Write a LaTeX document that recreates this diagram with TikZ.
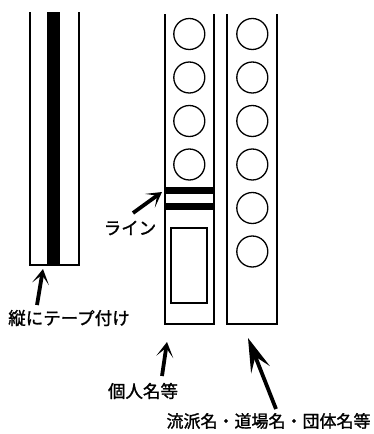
\documentclass[tikz,border=0pt]{standalone}
\usepackage{fontspec}
\newfontfamily\jpfont[FakeBold=1.3]{Noto Sans CJK JP}
\usetikzlibrary{arrows.meta}

\tikzset{
    strip/.style={line width=1.8pt},
    hole/.style={circle, draw, line width=1.3pt, minimum size=31pt, inner sep=0pt},
    label/.style={font=\jpfont\fontsize{17.5}{20}\selectfont, inner sep=0pt},
    pointer/.style={line width=3.8pt, -{Stealth[length=15pt, width=17pt, inset=9pt]}},
    longpointer/.style={line width=3.8pt, -{Stealth[length=34pt, width=20pt, inset=14pt]}},
}

\begin{document}
\begin{tikzpicture}[x=1pt, y=-1pt]
    \useasboundingbox (0,0) rectangle (373,434);

    % strip with tape
    \fill (47,12) rectangle (60,265);
    \draw [strip] (30,12) -- (30,265) -- (79,265) -- (79,12);

    % strip with name
    \draw [strip] (164.7,14) -- (164.7,324) -- (214,324) -- (214,14);
    \foreach \y in {34, 77.5, 121, 164.5}
        \node [hole] at (189.3,\y) {};
    \fill (164.7,187.3) rectangle (214,194.3);
    \fill (164.7,202.7) rectangle (214,210);
    \draw [line width=2pt] (171.3,228) rectangle (207.3,303.3);

    % strip with group
    \draw [strip] (227.3,14) -- (227.3,324) -- (277.3,324) -- (277.3,14);
    \foreach \y in {34, 77.5, 121, 164.5, 208, 251.5}
        \node [hole] at (252.3,\y) {};

    % labels
    \node [label] (line) at (130,228) {ライン};
    \node [label] (tape) at (69,318) {縦にテープ付け};
    \node [label] (person) at (143,391) {個人名等};
    \node [label, font=\jpfont\fontsize{17}{20}\selectfont] (group) at (268.5,421) {流派名・道場名・団体名等};

    \coordinate (linetip) at (162,192);
    \coordinate (tapetip) at (43,269);
    \coordinate (persontip) at (167,342);
    \coordinate (grouptip) at (248,338);

    \draw [pointer] (133,213) -- (linetip);
    \draw [pointer] (37,305) -- (tapetip);
    \draw [pointer] (162,376) -- (persontip);
    \draw [longpointer] (276,409) -- (grouptip);
\end{tikzpicture}
\end{document}
